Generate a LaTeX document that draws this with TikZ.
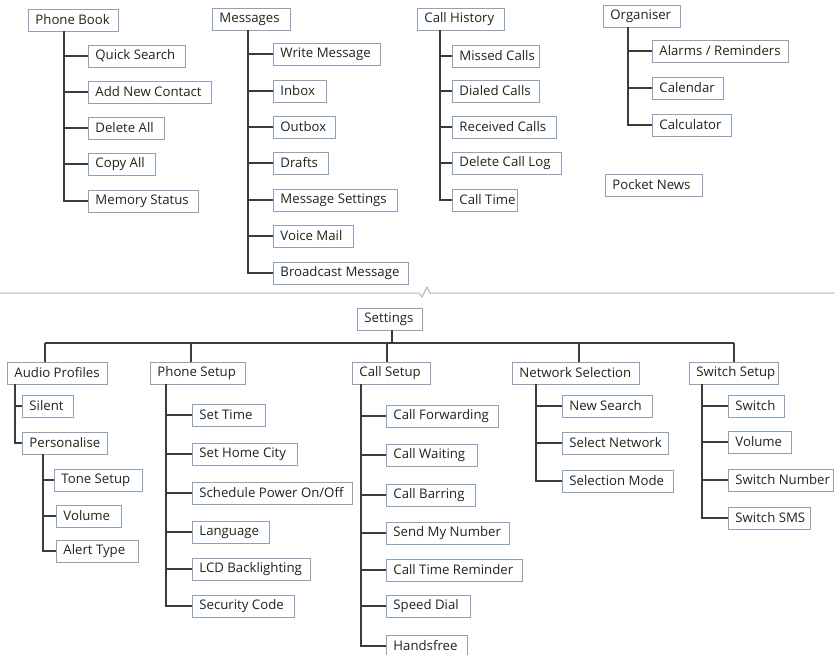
\documentclass[tikz,border=0pt]{standalone}
\usepackage{fontspec}
\setmainfont{Open Sans}
\definecolor{boxline}{HTML}{8AA2BC}
\definecolor{conncol}{HTML}{3C3C3C}
\definecolor{txt}{HTML}{222222}
\definecolor{divcol}{HTML}{B4B4B4}
\tikzset{
  box/.style={draw=boxline, line width=0.9pt, fill=white, text=txt, minimum height=22pt,
    inner xsep=7pt, inner ysep=2pt, font=\fontsize{13.2}{15}\selectfont},
  conn/.style={draw=conncol, line width=1.4pt},
}
\newcommand\mybox[5]{\node[box,anchor=west] (#1) at (#2,#3) {\makebox[\dimexpr#4pt-14pt\relax][l]{#5}};}
\begin{document}
\begin{tikzpicture}[x=1pt,y=-1pt]
\useasboundingbox (0,0) rectangle (835,655);
% ---------- top part ----------
\mybox{pb}{28}{20}{90}{Phone Book}
\mybox{pb1}{88}{56}{97}{Quick Search}
\mybox{pb2}{88}{92}{123}{Add New Contact}
\mybox{pb3}{88}{128}{76}{Delete All}
\mybox{pb4}{88}{164}{67}{Copy All}
\mybox{pb5}{88}{201}{110}{Memory Status}
\coordinate (pbv) at (64,0);
\foreach \c in {pb1,pb2,pb3,pb4,pb5}{\draw[conn] (pbv |- pb.south) |- (\c.west);}

\mybox{ms}{212}{19}{78}{Messages}
\mybox{ms1}{273}{54}{107}{Write Message}
\mybox{ms2}{273}{91}{53}{Inbox}
\mybox{ms3}{273}{127}{62}{Outbox}
\mybox{ms4}{273}{163}{55}{Drafts}
\mybox{ms5}{273}{200}{124}{Message Settings}
\mybox{ms6}{273}{236}{80}{Voice Mail}
\mybox{ms7}{273}{273}{135}{Broadcast Message}
\coordinate (msv) at (248,0);
\foreach \c in {ms1,ms2,ms3,ms4,ms5,ms6,ms7}{\draw[conn] (msv |- ms.south) |- (\c.west);}

\mybox{ch}{417}{19}{87}{Call History}
\mybox{ch1}{452}{56}{87}{Missed Calls}
\mybox{ch2}{452}{91}{87}{Dialed Calls}
\mybox{ch3}{452}{127}{104}{Received Calls}
\mybox{ch4}{452}{163}{109}{Delete Call Log}
\mybox{ch5}{452}{200}{65}{Call Time}
\coordinate (chv) at (440,0);
\foreach \c in {ch1,ch2,ch3,ch4,ch5}{\draw[conn] (chv |- ch.south) |- (\c.west);}

\mybox{og}{603}{16}{77}{Organiser}
\mybox{og1}{652}{51}{136}{Alarms / Reminders}
\mybox{og2}{652}{88}{71}{Calendar}
\mybox{og3}{652}{125}{79}{Calculator}
\coordinate (ogv) at (628,0);
\foreach \c in {og1,og2,og3}{\draw[conn] (ogv |- og.south) |- (\c.west);}

\mybox{pn}{605}{185}{97}{Pocket News}

% ---------- divider ----------
\draw[divcol, line width=1pt] (0,293) -- (419,293) -- (422,297) -- (427,287) -- (430,293) -- (835,293);

% ---------- settings ----------
\mybox{st}{357}{319}{65}{Settings}
\coordinate (sb) at (392,343);
\coordinate (bl) at (45,343);
\coordinate (br) at (734,343);
\draw[conn] (sb |- st.south) -- (sb);
\draw[conn] (bl) -- (br);

\mybox{ap}{7}{373}{100}{Audio Profiles}
\mybox{ps}{150}{373}{95}{Phone Setup}
\mybox{cs}{352}{373}{78}{Call Setup}
\mybox{ns}{512}{373}{127}{Network Selection}
\mybox{ss}{689}{373}{89}{Switch Setup}
\coordinate (dap) at (45,343);
\coordinate (dps) at (191,343);
\coordinate (dcs) at (387,343);
\coordinate (dns) at (579,343);
\coordinate (dss) at (734,343);
\draw[conn] (dap) -- (dap |- ap.north);
\draw[conn] (dps) -- (dps |- ps.north);
\draw[conn] (dcs) -- (dcs |- cs.north);
\draw[conn] (dns) -- (dns |- ns.north);
\draw[conn] (dss) -- (dss |- ss.north);

% audio profiles
\mybox{ap1}{22}{406}{51}{Silent}
\mybox{ap2}{22}{443}{85}{Personalise}
\coordinate (apv) at (15,0);
\foreach \c in {ap1,ap2}{\draw[conn] (apv |- ap.south) |- (\c.west);}
\mybox{pe1}{54}{480}{88}{Tone Setup}
\mybox{pe2}{56}{516}{65}{Volume}
\mybox{pe3}{56}{551}{82}{Alert Type}
\coordinate (pev) at (43,0);
\foreach \c in {pe1,pe2,pe3}{\draw[conn] (pev |- ap2.south) |- (\c.west);}

% phone setup
\mybox{ps1}{192}{415}{73}{Set Time}
\mybox{ps2}{192}{454}{105}{Set Home City}
\mybox{ps3}{192}{493}{160}{Schedule Power On/Off}
\mybox{ps4}{192}{532}{77}{Language}
\mybox{ps5}{192}{569}{118}{LCD Backlighting}
\mybox{ps6}{192}{606}{102}{Security Code}
\coordinate (psv) at (166,0);
\foreach \c in {ps1,ps2,ps3,ps4,ps5,ps6}{\draw[conn] (psv |- ps.south) |- (\c.west);}

% call setup
\mybox{cs1}{386}{416}{112}{Call Forwarding}
\mybox{cs2}{386}{455}{91}{Call Waiting}
\mybox{cs3}{386}{495}{89}{Call Barring}
\mybox{cs4}{386}{533}{123}{Send My Number}
\mybox{cs5}{386}{570}{136}{Call Time Reminder}
\mybox{cs6}{386}{606}{84}{Speed Dial}
\mybox{cs7}{386}{646}{81}{Handsfree}
\coordinate (csv) at (361,0);
\foreach \c in {cs1,cs2,cs3,cs4,cs5,cs6,cs7}{\draw[conn] (csv |- cs.south) |- (\c.west);}

% network selection
\mybox{ns1}{562}{406}{90}{New Search}
\mybox{ns2}{562}{443}{106}{Select Network}
\mybox{ns3}{562}{481}{111}{Selection Mode}
\coordinate (nsv) at (536,0);
\foreach \c in {ns1,ns2,ns3}{\draw[conn] (nsv |- ns.south) |- (\c.west);}

% switch setup
\mybox{sw1}{728}{406}{56}{Switch}
\mybox{sw2}{728}{442}{63}{Volume}
\mybox{sw3}{728}{480}{105}{Switch Number}
\mybox{sw4}{728}{518}{82}{Switch SMS}
\coordinate (swv) at (702,0);
\foreach \c in {sw1,sw2,sw3,sw4}{\draw[conn] (swv |- ss.south) |- (\c.west);}
\end{tikzpicture}
\end{document}
